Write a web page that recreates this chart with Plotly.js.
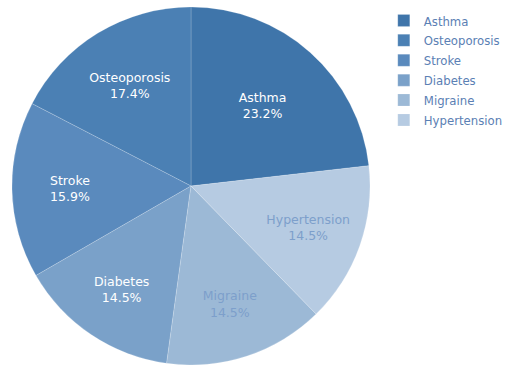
<!DOCTYPE html>
<html>
<head>
<meta charset="utf-8">
<script src="https://cdn.plot.ly/plotly-3.0.1.min.js"></script>
<style>html,body{margin:0;padding:0;background:#fff;}#chart{width:509px;height:365px;}</style>
</head>
<body>
<div id="chart"></div>
<script>
const labels = ["Asthma", "Osteoporosis", "Stroke", "Diabetes", "Migraine", "Hypertension"];
const counts = [16, 12, 11, 10, 10, 10];
const sliceColors = ["#3f75aa", "#4b80b4", "#5a8abd", "#7aa1c9", "#9cb9d6", "#b6cbe2"];
const textColors = ["#ffffff", "#ffffff", "#ffffff", "#ffffff", "#7d9fcb", "#7d9fcb"];

const trace = {
  type: "pie",
  labels: labels,
  values: counts,
  sort: true,
  direction: "counterclockwise",
  textinfo: "label+percent",
  textposition: "inside",
  insidetextorientation: "horizontal",
  insidetextfont: {family: "DejaVu Sans, Verdana, sans-serif", size: 12.5, color: textColors},
  marker: {colors: sliceColors, line: {color: "rgba(255,255,255,0.35)", width: 0.5}},
  domain: {x: [12/509, 370/509], y: [0, 1 - 7/365]},
  hoverinfo: "label+percent"
};

const layout = {
  width: 509,
  height: 365,
  margin: {l: 0, r: 0, t: 0, b: 0, autoexpand: false},
  paper_bgcolor: "#ffffff",
  showlegend: true,
  font: {family: "DejaVu Sans, Verdana, sans-serif", size: 12, color: "#5b80b4"},
  legend: {x: 0.754, y: 0.985, xanchor: "left", yanchor: "top", font: {family: "DejaVu Sans Condensed, DejaVu Sans, sans-serif", size: 13, color: "#5b80b4"}, itemwidth: 30, tracegroupgap: 0}
};

Plotly.newPlot("chart", [trace], layout, {displayModeBar: false, staticPlot: true});
</script>
</body>
</html>
